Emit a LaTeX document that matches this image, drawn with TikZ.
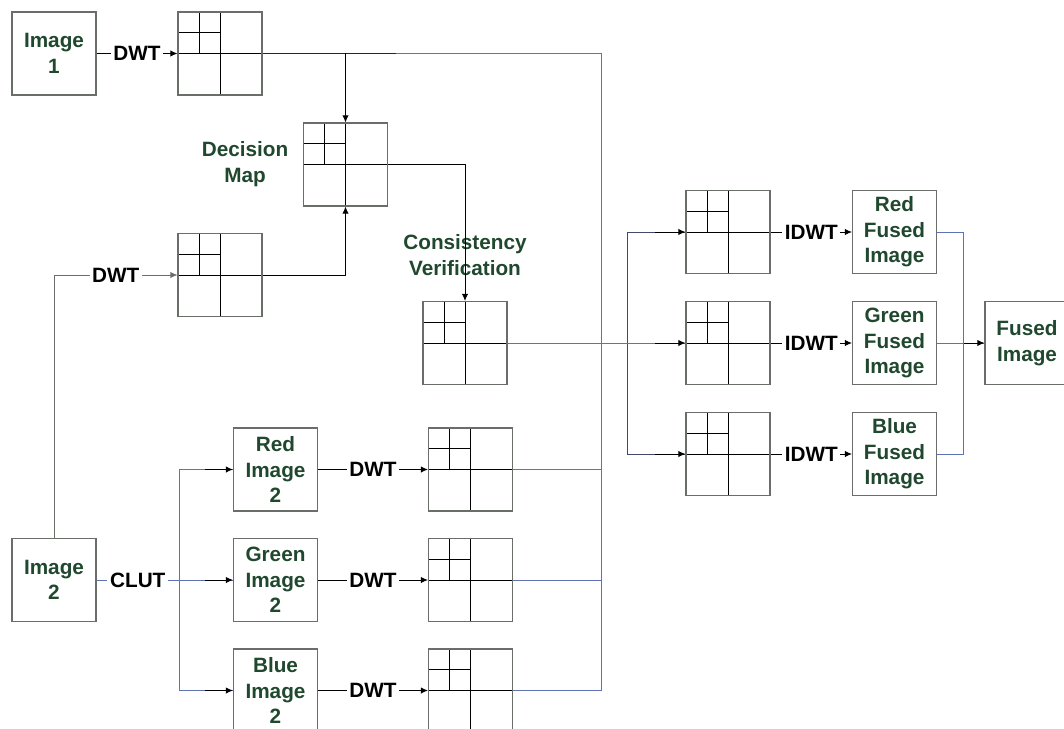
\documentclass[tikz,border=0pt]{standalone}
\usepackage{fontspec}
\setsansfont{Liberation Sans}
\usetikzlibrary{arrows.meta,calc}
\definecolor{labelgreen}{RGB}{32,72,46}
\definecolor{framegray}{RGB}{105,110,105}
\definecolor{busblue}{RGB}{95,115,180}
\definecolor{busdark}{RGB}{65,75,105}
\tikzset{
    % plain image block with green caption
    imgbox/.style={
        rectangle, draw=framegray, line width=0.6pt,
        minimum width=1.68cm, minimum height=1.66cm, inner sep=0pt,
        align=center, text=labelgreen,
        font=\sffamily\bfseries\fontsize{11.8}{14.6}\selectfont
    },
    % wavelet sub-band block (two levels)
    wavebox/.style={
        imgbox,
        path picture={
            \draw[black, line width=0.55pt]
              (path picture bounding box.north) -- (path picture bounding box.south)
              (path picture bounding box.west) -- (path picture bounding box.east)
              ($(path picture bounding box.north west)!0.5!(path picture bounding box.north)$)
                -- ($(path picture bounding box.west)!0.5!(path picture bounding box.center)$)
              ($(path picture bounding box.north west)!0.5!(path picture bounding box.west)$)
                -- ($(path picture bounding box.north)!0.5!(path picture bounding box.center)$);
        }
    },
    % free captions and operation labels
    capt/.style={align=center, text=labelgreen, inner sep=1pt,
        font=\sffamily\bfseries\fontsize{11.8}{14.6}\selectfont},
    oplbl/.style={fill=white, text=black, inner sep=1.5pt,
        font=\sffamily\bfseries\fontsize{11.8}{14.6}\selectfont},
    % connectors
    arr/.style={-{Latex[length=4pt,width=3.6pt]}, line width=0.55pt, black},
    conn/.style={line width=0.55pt, black!85},
    bus/.style={line width=0.55pt, busblue},
    darkbus/.style={line width=0.55pt, busdark},
}
\begin{document}
\begin{tikzpicture}[x=0.02cm, y=-0.02cm]
  \clip (0,0) rectangle (1064,729);
  % first image and decision path
  \node[imgbox]  (img1) at (54,53.5)    {Image\\1};
  \node[wavebox] (w1)   at (220,53.5)   {};
  \node[wavebox] (dm)   at (345.5,164.5) {};
  \node[capt]    (dmlbl) at (245,164)   {Decision\\Map};
  \node[wavebox] (w2)   at (220,275)    {};
  \node[wavebox] (cv)   at (465,343)    {};
  \node[capt]    (cvlbl) at (465,255)   {Consistency\\Verification};
  % second image split into colour planes
  \node[imgbox]  (img2) at (54,580)     {Image\\2};
  \node[imgbox]  (red2) at (275.5,469.5) {Red\\Image\\2};
  \node[imgbox]  (grn2) at (275.5,580)  {Green\\Image\\2};
  \node[imgbox]  (blu2) at (275.5,690.5) {Blue\\Image\\2};
  \node[wavebox] (wr)   at (470.5,469.5) {};
  \node[wavebox] (wg)   at (470.5,580)  {};
  \node[wavebox] (wb)   at (470.5,690.5) {};
  % fusion side
  \node[wavebox] (fr)   at (728,232)    {};
  \node[wavebox] (fg)   at (728,343)    {};
  \node[wavebox] (fb)   at (728,454)    {};
  \node[imgbox]  (redf) at (894.5,232)  {Red\\Fused\\Image};
  \node[imgbox]  (grnf) at (894.5,343)  {Green\\Fused\\Image};
  \node[imgbox]  (bluf) at (894.5,454)  {Blue\\Fused\\Image};
  \node[imgbox]  (fused) at (1027,343)  {Fused\\Image};
  % bus points
  \coordinate (busA)  at (601,53.5);
  \coordinate (split) at (179,580);
  \coordinate (busB)  at (627,343);
  \coordinate (busC)  at (963,343);

  % image 1 -> decision map
  \draw[arr] (img1) -- node[oplbl] {DWT} (w1);
  \draw[conn] (w1.east) -- ($(w1.east -| dm.north)+(50,0)$);
  \draw[arr] (w1.east -| dm.north) -- (dm.north);
  \draw[arr, framegray] (img2.north) |- node[oplbl, pos=0.75, text=black] {DWT} (w2.west);
  \draw[arr] (w2.east) -| (dm.south);
  \draw[arr] (dm.east) -| (cv.north);
  % right-hand bus of the colour planes
  \draw[bus] ($(w1.east -| dm.north)+(50,0)$) -- (busA) |- (wb.east);
  \draw[bus] (wr.east) -- (wr.east -| busA);
  \draw[bus] (wg.east) -- (wg.east -| busA);
  % colour look-up table
  \draw[bus] (img2) -- node[oplbl] {CLUT} (split);
  \draw[bus] (split) |- (red2.west);
  \draw[bus] (split) -- (grn2.west);
  \draw[bus] (split) |- (blu2.west);
  \foreach \b in {red2,grn2,blu2}
    \draw[arr] ($(\b.west)+(-28,0)$) -- (\b.west);
  \draw[arr] (red2) -- node[oplbl] {DWT} (wr);
  \draw[arr] (grn2) -- node[oplbl] {DWT} (wg);
  \draw[arr] (blu2) -- node[oplbl] {DWT} (wb);
  % consistency map -> inverse transforms
  \draw[bus] (cv.east) -- (busB);
  \draw[darkbus] (busB) |- (fr.west);
  \draw[darkbus] (busB) |- (fb.west);
  \draw[bus] (busB) -- (fg.west);
  \foreach \f in {fr,fg,fb}
    \draw[arr] ($(\f.west)+(-30,0)$) -- (\f.west);
  \draw[arr] (fr) -- node[oplbl] {IDWT} (redf);
  \draw[arr] (fg) -- node[oplbl] {IDWT} (grnf);
  \draw[arr] (fb) -- node[oplbl] {IDWT} (bluf);
  % merge of the fused planes
  \draw[bus] (redf.east) -| (busC);
  \draw[bus] (bluf.east) -| (busC);
  \draw[bus] (grnf.east) -- (fused.west);
  \draw[arr] ($(fused.west)+(-20,0)$) -- (fused.west);
\end{tikzpicture}
\end{document}
